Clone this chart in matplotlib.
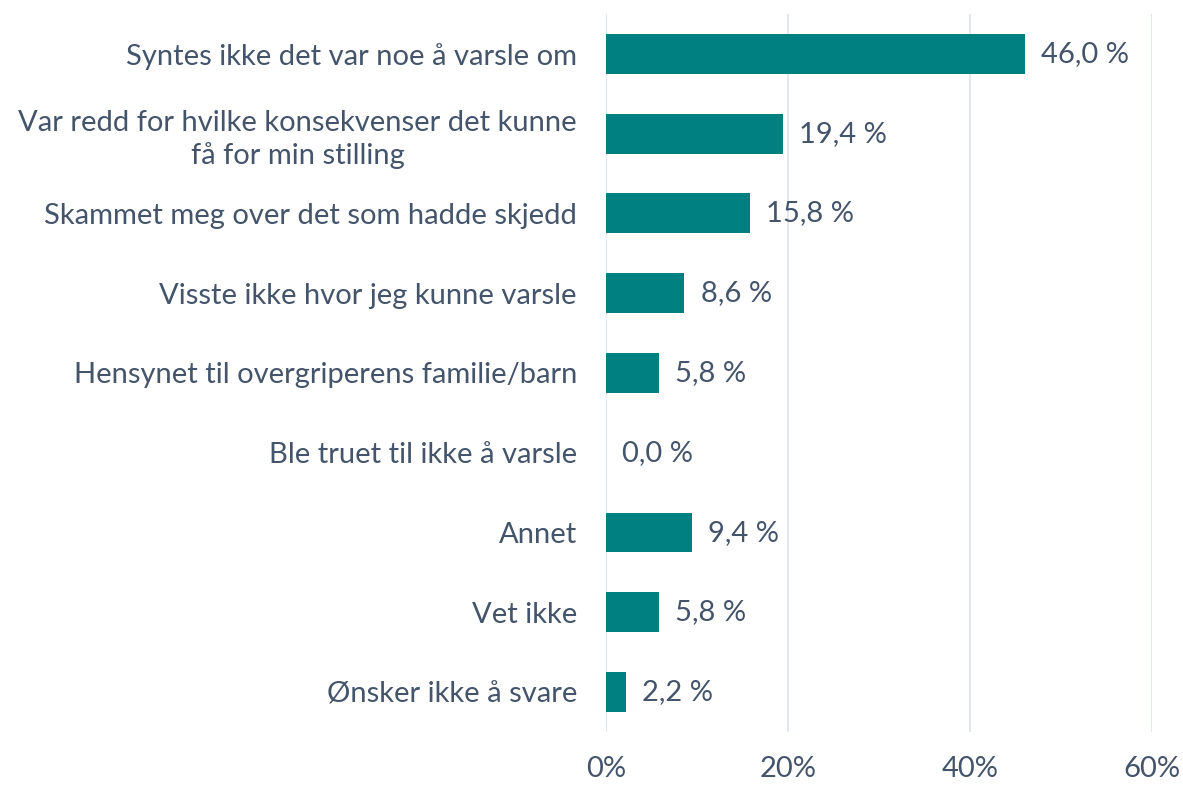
import matplotlib.pyplot as plt

categories = [
    "Syntes ikke det var noe å varsle om",
    "Var redd for hvilke konsekvenser det kunne\nfå for min stilling",
    "Skammet meg over det som hadde skjedd",
    "Visste ikke hvor jeg kunne varsle",
    "Hensynet til overgriperens familie/barn",
    "Ble truet til ikke å varsle",
    "Annet",
    "Vet ikke",
    "Ønsker ikke å svare",
]
values = [46.0, 19.4, 15.8, 8.6, 5.8, 0.0, 9.4, 5.8, 2.2]
xticks = [0, 20, 40, 60]

text_color = "#44546A"
bar_color = "#008080"
grid_color = "#DDE2EA"

plt.rcParams['font.family'] = ['Lato', 'DejaVu Sans']

fig = plt.figure(figsize=(11.83, 7.86), dpi=100)
ax = fig.add_axes([0.5123, 0.0687, 0.4615, 0.9135])

ypos = list(range(len(categories)))
ax.barh(ypos, values, height=0.5, color=bar_color, zorder=3)
ax.set_ylim(len(categories) - 0.5, -0.5)
ax.set_xlim(0, 60)

for y, v in zip(ypos, values):
    ax.text(v + 1.8, y, ("%.1f %%" % v).replace(".", ","), va="center", ha="left",
            fontsize=21, color=text_color)

ax.set_yticks(ypos)
ax.set_yticklabels(categories, fontsize=21, color=text_color,
                   multialignment="center", linespacing=1.3)
ax.set_xticks(xticks)
ax.set_xticklabels(["%d%%" % t for t in xticks], fontsize=21, color=text_color)
ax.tick_params(axis="y", length=0, pad=21)
ax.tick_params(axis="x", length=0, pad=17)

ax.xaxis.grid(True, color=grid_color, linewidth=1.2, zorder=0)
for s in ax.spines.values():
    s.set_visible(False)

fig.savefig("out.png", dpi=100)
